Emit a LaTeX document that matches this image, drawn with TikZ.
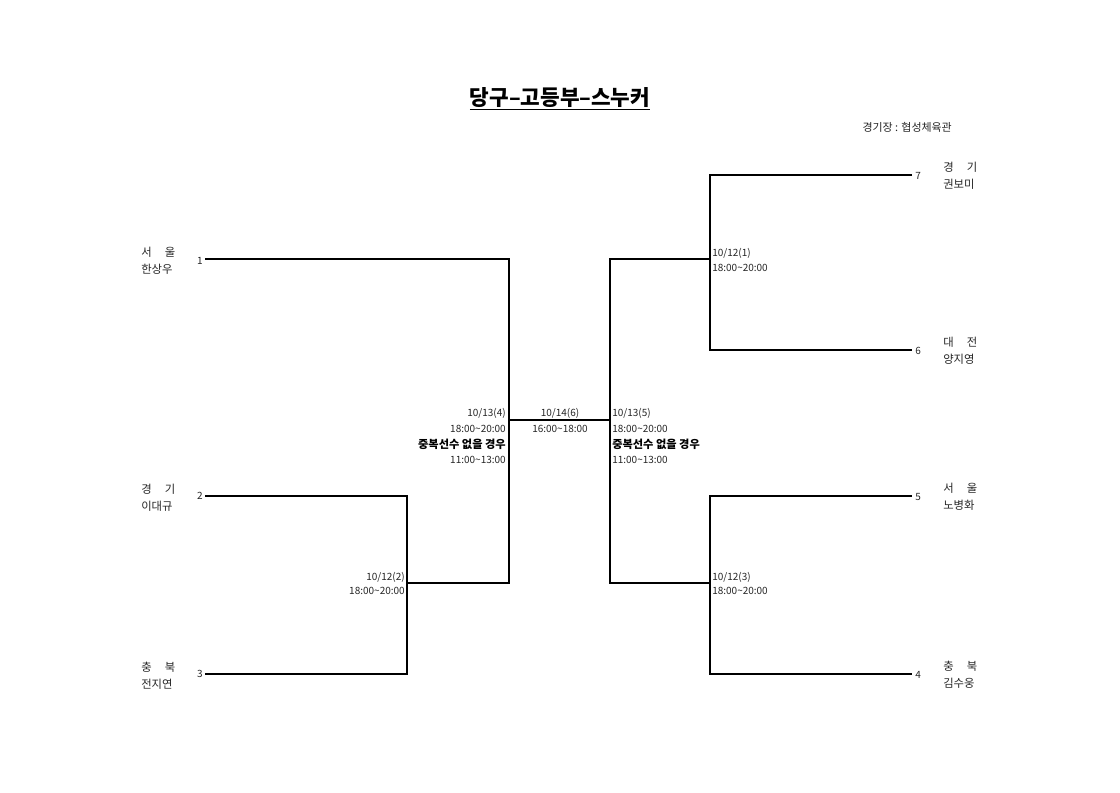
\documentclass[tikz,border=0pt]{standalone}
\usepackage{fontspec}
\setmainfont{Noto Sans CJK KR}
\begin{document}
\begin{tikzpicture}[x=0.75pt,y=-0.75pt,
  thinln/.style={line width=0.8pt,black},
  thickln/.style={line width=1.4pt,black},
  txt/.style={inner sep=0pt,font=\fontsize{7.5}{9}\selectfont,text=black!85},
  ktxt/.style={inner sep=0pt,font=\fontsize{8.5}{10}\selectfont,text=black!85},
  lbl/.style={ktxt,align=left,anchor=west},
  boldtxt/.style={inner sep=0pt,font=\fontsize{8.4}{10}\selectfont\bfseries,text=black}]
\useasboundingbox (0,0) rectangle (1120,792);
\fill[white] (0,0) rectangle (1120,792);
% title
\node[inner sep=0pt,font=\fontsize{16}{18}\selectfont\bfseries] (title) at (560,99) {\underline{당구–고등부–스누커}};
\node[ktxt,font=\fontsize{8.2}{10}\selectfont,anchor=east] (venue) at (952,127) {경기장 : 협성체육관};
% coordinates
\coordinate (p1) at (205,259); \coordinate (q1) at (509,259);
\coordinate (p2) at (205,496); \coordinate (q2) at (407,496);
\coordinate (p3) at (205,674); \coordinate (q3) at (407,674);
\coordinate (m23) at (407,583); \coordinate (m23r) at (509,583);
\coordinate (cL) at (509,420); \coordinate (cR) at (610,420);
\coordinate (r7) at (912,175); \coordinate (s7) at (710,175);
\coordinate (r6) at (912,350); \coordinate (s6) at (710,350);
\coordinate (r5) at (912,496); \coordinate (s5) at (710,496);
\coordinate (r4) at (912,674); \coordinate (s4) at (710,674);
\coordinate (m76) at (710,259); \coordinate (m76l) at (610,259);
\coordinate (m54) at (710,583); \coordinate (m54l) at (610,583);
% left bracket
\draw[thickln] (p1) -- (q1) -- (m23r) -- (m23);
\draw[thinln] (p2) -- (q2) -- (m23);
\draw[thickln] (m23) -- (q3) -- (p3);
\draw[thinln] (cL) -- (cR);
% right bracket
\draw[thickln] (m76) -- (m76l) -- (m54l) -- (m54);
\draw[thinln] (r7) -- (s7) -- (s6) -- (r6);
\draw[thinln] (r5) -- (s5) -- (m54);
\draw[thickln] (m54) -- (s4) -- (r4);
% numbers
\node[txt,anchor=east] (n1) at (203,261) {1};
\node[txt,anchor=east] (n2) at (203,496) {2};
\node[txt,anchor=east] (n3) at (203,674) {3};
\node[txt,anchor=west] (n7) at (915,176) {7};
\node[txt,anchor=west] (n6) at (915,351) {6};
\node[txt,anchor=west] (n5) at (915,497) {5};
\node[txt,anchor=west] (n4) at (915,675) {4};
% player labels
\newcommand{\two}[2]{\makebox[3em]{#1\hfill#2}}
\node[lbl] (l1) at (141,261) {\two{서}{울}\\[3pt]한상우};
\node[lbl] (l2) at (141,498) {\two{경}{기}\\[3pt]이대규};
\node[lbl] (l3) at (141,676) {\two{충}{북}\\[3pt]전지연};
\node[lbl] (l7) at (943,176) {\two{경}{기}\\[3pt]권보미};
\node[lbl] (l6) at (943,351) {\two{대}{전}\\[3pt]양지영};
\node[lbl] (l5) at (943,497) {\two{서}{울}\\[3pt]노병화};
\node[lbl] (l4) at (943,675) {\two{충}{북}\\[3pt]김수웅};
% match labels
\node[txt,anchor=east] (g4a) at (506,413) {10/13(4)};
\node[txt,anchor=east] (g4b) at (506,429) {18:00\textasciitilde 20:00};
\node[boldtxt,anchor=east] (g4c) at (506,444) {중복선수 없을 경우};
\node[txt,anchor=east] (g4d) at (506,460) {11:00\textasciitilde 13:00};
\node[txt,anchor=west] (g5a) at (612,413) {10/13(5)};
\node[txt,anchor=west] (g5b) at (612,429) {18:00\textasciitilde 20:00};
\node[boldtxt,anchor=west] (g5c) at (612,444) {중복선수 없을 경우};
\node[txt,anchor=west] (g5d) at (612,460) {11:00\textasciitilde 13:00};
\node[txt] (g6a) at (560,413) {10/14(6)};
\node[txt] (g6b) at (560,429) {16:00\textasciitilde 18:00};
\node[txt,anchor=east] (g2a) at (405,577) {10/12(2)};
\node[txt,anchor=east] (g2b) at (405,591) {18:00\textasciitilde 20:00};
\node[txt,anchor=west] (g1a) at (712,253) {10/12(1)};
\node[txt,anchor=west] (g1b) at (712,268) {18:00\textasciitilde 20:00};
\node[txt,anchor=west] (g3a) at (712,577) {10/12(3)};
\node[txt,anchor=west] (g3b) at (712,591) {18:00\textasciitilde 20:00};
\end{tikzpicture}
\end{document}
